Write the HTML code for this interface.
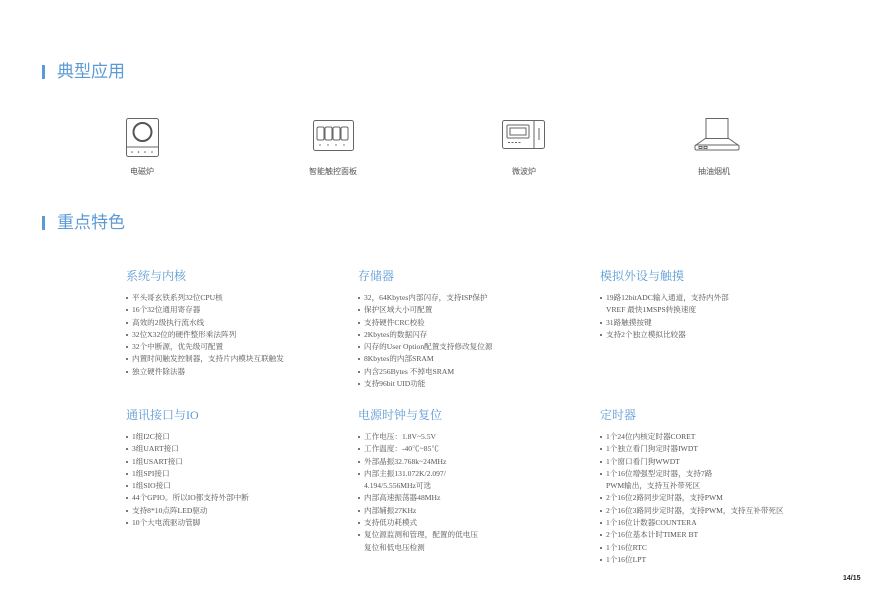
<!DOCTYPE html>
<html><head><meta charset="utf-8"><style>
body{margin:0;width:874px;height:600px;background:#fff;position:relative;overflow:hidden;font-family:"Liberation Serif","Noto Serif CJK SC",serif;}
.h{position:absolute;left:42px;font-family:"Liberation Sans","Noto Sans CJK SC",sans-serif;font-size:17px;color:#5b9bd5;line-height:20px;}
.h:before{content:"";position:absolute;left:0;top:3px;width:3px;height:14px;background:#5b9bd5;}
.h span{margin-left:15px;}
.t{position:absolute;font-family:"Liberation Serif","Noto Serif CJK SC",serif;font-size:12px;color:#5b9bd5;line-height:14px;}
ul{position:absolute;margin:0;padding:0;list-style:none;font-size:7.6px;color:#555;line-height:12.3px;}
li{padding-left:6px;position:relative;white-space:nowrap;}
li.b:before{content:"";position:absolute;left:0;top:5px;width:2px;height:2px;background:#777;}
.c{position:absolute;font-family:"Liberation Sans","Noto Sans CJK SC",sans-serif;font-size:8px;color:#555;}
svg{position:absolute;}
.pn{position:absolute;left:843px;top:575px;font-family:"Liberation Sans",sans-serif;font-size:7px;font-weight:bold;color:#222;}
</style></head><body>
<div class="h" style="top:62px"><span>典型应用</span></div>
<div class="h" style="top:213px"><span>重点特色</span></div>

<svg style="left:126px;top:118px" width="34" height="40"><rect x="0.5" y="0.5" width="32" height="38" rx="2" fill="none" stroke="#666"/><line x1="0.5" y1="29" x2="32.5" y2="29" stroke="#666"/><circle cx="16.5" cy="14" r="9" fill="none" stroke="#555" stroke-width="2"/><g fill="#666"><circle cx="6" cy="34" r=".8"/><circle cx="12.5" cy="34" r=".8"/><circle cx="19" cy="34" r=".8"/><circle cx="26" cy="34" r=".8"/></g></svg>
<div class="c" style="left:130px;top:166px">电磁炉</div>

<svg style="left:313px;top:120px" width="42" height="32"><rect x="0.5" y="0.5" width="40" height="30" rx="2" fill="none" stroke="#666"/><g fill="none" stroke="#666"><rect x="4" y="7" width="7" height="13" rx="1.5"/><rect x="12" y="7" width="7" height="13" rx="1.5"/><rect x="20" y="7" width="7" height="13" rx="1.5"/><rect x="28" y="7" width="7" height="13" rx="1.5"/></g><g fill="#666"><circle cx="7" cy="25" r=".7"/><circle cx="15" cy="25" r=".7"/><circle cx="23" cy="25" r=".7"/><circle cx="31" cy="25" r=".7"/></g></svg>
<div class="c" style="left:309px;top:166px">智能触控面板</div>

<svg style="left:502px;top:120px" width="44" height="30"><rect x="0.5" y="0.5" width="42" height="28" rx="2" fill="none" stroke="#666"/><line x1="32" y1="1" x2="32" y2="28" stroke="#666"/><rect x="5" y="5" width="22" height="13" rx="1" fill="none" stroke="#666"/><rect x="8" y="8" width="16" height="7" fill="none" stroke="#666"/><line x1="37" y1="8" x2="37" y2="20" stroke="#666"/><line x1="6" y1="22.5" x2="20" y2="22.5" stroke="#666" stroke-dasharray="2 1.5"/></svg>
<div class="c" style="left:512px;top:166px">微波炉</div>

<svg style="left:694px;top:118px" width="46" height="34"><g fill="none" stroke="#666"><rect x="12" y="0.5" width="22" height="20"/><path d="M12 20 L2 27 L44 27 L34 20"/><rect x="1" y="27" width="44" height="5" rx="1.5"/><rect x="5" y="28.5" width="3" height="2"/><rect x="10" y="28.5" width="3" height="2"/></g></svg>
<div class="c" style="left:698px;top:166px">抽油烟机</div>

<div class="t" style="left:126px;top:269px">系统与内核</div>
<ul style="left:126px;top:292px">
<li class="b">平头哥玄铁系列32位CPU核</li><li class="b">16个32位通用寄存器</li><li class="b">高效的2级执行流水线</li><li class="b">32位X32位的硬件整形乘法阵列</li><li class="b">32个中断源，优先级可配置</li><li class="b">内置时间触发控制器，支持片内模块互联触发</li><li class="b">独立硬件除法器</li></ul>

<div class="t" style="left:358px;top:269px">存储器</div>
<ul style="left:358px;top:292px">
<li class="b">32，64Kbytes内部闪存，支持ISP保护</li><li class="b">保护区域大小可配置</li><li class="b">支持硬件CRC校验</li><li class="b">2Kbytes的数据闪存</li><li class="b">闪存的User Option配置支持修改复位源</li><li class="b">8Kbytes的内部SRAM</li><li class="b">内含256Bytes 不掉电SRAM</li><li class="b">支持96bit UID功能</li></ul>

<div class="t" style="left:600px;top:269px">模拟外设与触摸</div>
<ul style="left:600px;top:292px">
<li class="b">19路12bitADC输入通道，支持内外部</li><li>VREF 最快1MSPS转换速度</li><li class="b">31路触摸按键</li><li class="b">支持2个独立模拟比较器</li></ul>

<div class="t" style="left:126px;top:408px">通讯接口与IO</div>
<ul style="left:126px;top:431px">
<li class="b">1组I2C接口</li><li class="b">3组UART接口</li><li class="b">1组USART接口</li><li class="b">1组SPI接口</li><li class="b">1组SIO接口</li><li class="b">44个GPIO。所以IO都支持外部中断</li><li class="b">支持8*10点阵LED驱动</li><li class="b">10个大电流驱动管脚</li></ul>

<div class="t" style="left:358px;top:408px">电源时钟与复位</div>
<ul style="left:358px;top:431px">
<li class="b">工作电压：1.8V~5.5V</li><li class="b">工作温度：-40℃~85℃</li><li class="b">外部晶振32.768k~24MHz</li><li class="b">内部主振131.072K/2.097/</li><li>4.194/5.556MHz可选</li><li class="b">内部高速振荡器48MHz</li><li class="b">内部辅振27KHz</li><li class="b">支持低功耗模式</li><li class="b">复位源监测和管理，配置的低电压</li><li>复位和低电压检测</li></ul>

<div class="t" style="left:600px;top:408px">定时器</div>
<ul style="left:600px;top:431px">
<li class="b">1个24位内核定时器CORET</li><li class="b">1个独立看门狗定时器IWDT</li><li class="b">1个窗口看门狗WWDT</li><li class="b">1个16位增强型定时器，支持7路</li><li>PWM输出，支持互补带死区</li><li class="b">2个16位2路同步定时器，支持PWM</li><li class="b">2个16位3路同步定时器，支持PWM，支持互补带死区</li><li class="b">1个16位计数器COUNTERA</li><li class="b">2个16位基本计时TIMER BT</li><li class="b">1个16位RTC</li><li class="b">1个16位LPT</li></ul>

<div class="pn">14/15</div>
</body></html>
